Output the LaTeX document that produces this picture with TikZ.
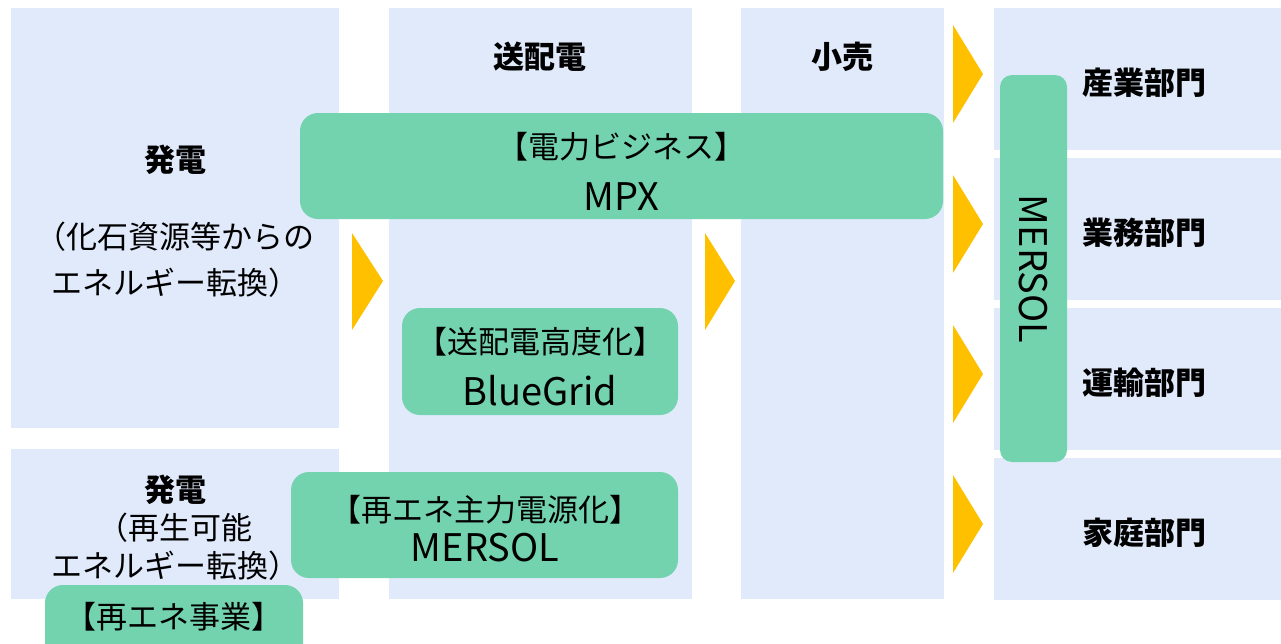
\documentclass[tikz,border=0pt]{standalone}
\usepackage{fontspec}
\setmainfont{Noto Sans CJK JP}
\usetikzlibrary{positioning}

\definecolor{panelblue}{RGB}{224,234,251}
\definecolor{bizgreen}{RGB}{116,211,175}
\definecolor{flowyellow}{RGB}{255,192,0}

\tikzset{
  panel/.style={fill=panelblue, inner sep=0pt},
  biz/.style={fill=bizgreen, rounded corners=18pt, inner sep=0pt},
  txt/.style={inner sep=0pt, font=\fontsize{31}{37}\selectfont},
  latin/.style={inner sep=0pt, font=\fontsize{38}{44}\selectfont},
  head/.style={inner sep=0pt, font=\fontsize{31}{37}\selectfont\bfseries},
}

\begin{document}
\begin{tikzpicture}[x=1pt,y=-1pt]
   \useasboundingbox (0,0) rectangle (1281,643);
   % columns
   \node[panel, minimum width=328pt, minimum height=420pt] (gen)   at (175,218) {};
   \node[panel, minimum width=328pt, minimum height=150pt] (genre) at (175,524) {};
   \node[panel, minimum width=303pt, minimum height=591pt] (grid)  at (540.5,303.5) {};
   \node[panel, minimum width=203pt, minimum height=591pt] (retail) at (842.5,303.5) {};
   \foreach \c/\n in {79/ind,229/com,379/trn,529/hom}
      \node[panel, minimum width=287pt, minimum height=142pt] (\n) at (1137.5,\c) {};

   % flow arrows
   \fill[flowyellow] (352,233) -- (383,281) -- (352,330) -- cycle;
   \fill[flowyellow] (705,233) -- (735,281) -- (705,330) -- cycle;
   \foreach \c in {74,224,374,524}
      \fill[flowyellow] (953,{\c-49}) -- (983,\c) -- (953,{\c+49}) -- cycle;

   % businesses
   \node[biz, minimum width=643pt, minimum height=106pt] (mpx)      at (621.5,166) {};
   \node[biz, minimum width=276pt, minimum height=107pt] (bluegrid) at (540,361.5) {};
   \node[biz, minimum width=387pt, minimum height=106pt] (mersol)   at (484.5,525) {};
   \node[biz, minimum width=258pt, minimum height=80pt]  (renew)    at (174,625) {};
   \node[biz, rounded corners=12pt, minimum width=67pt, minimum height=387pt] (mersolv) at (1033.5,268.5) {};

   % labels
   \node[head] (gridT)   at (540,57)  {送配電};
   \node[head] (retailT) at (842,57)  {小売};
   \node[head] (genT)    at (175,160) {発電};
   \node[txt]  (genA)    at (175,237) {（化石資源等からの};
   \node[txt]  (genB)    at (175,283) {エネルギー転換）};
   \node[head] (genreT)  at (175,490) {発電};
   \node[txt]  (genreA)  at (175,528) {（再生可能};
   \node[txt]  (genreB)  at (175,566) {エネルギー転換）};

   \node[txt]   (mpxA) at (621,147) {【電力ビジネス】};
   \node[latin] (mpxB) at (621,197) {MPX};
   \node[txt]   (bgA)  at (540,342) {【送配電高度化】};
   \node[latin] (bgB)  at (540,391) {BlueGrid};
   \node[txt]   (msA)  at (485,510) {【再エネ主力電源化】};
   \node[latin] (msB)  at (485,548) {MERSOL};
   \node[txt]   (rnT)  at (174,617) {【再エネ事業】};
   \node[latin, rotate=-90] (msV) at (1033,269) {MERSOL};

   \node[head] at (ind) [xshift=7pt, yshift=-4pt] {産業部門};
   \node[head] at (com) [xshift=7pt, yshift=-4pt] {業務部門};
   \node[head] at (trn) [xshift=7pt, yshift=-4pt] {運輸部門};
   \node[head] at (hom) [xshift=7pt, yshift=-4pt] {家庭部門};
\end{tikzpicture}
\end{document}
